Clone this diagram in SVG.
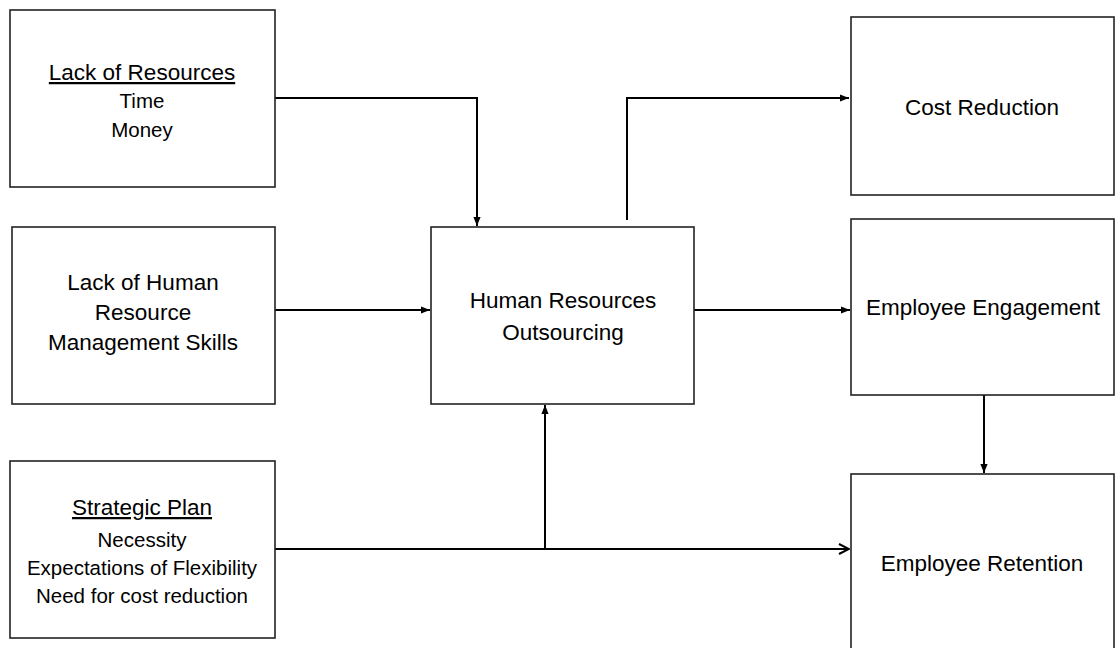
<svg xmlns="http://www.w3.org/2000/svg" width="1115" height="648" viewBox="0 0 1115 648">
<defs>
<marker id="arr" viewBox="0 0 10 10" refX="10" refY="5" markerWidth="9" markerHeight="9" markerUnits="userSpaceOnUse" orient="auto">
<path d="M0,1 L10,5 L0,9 Z" fill="#000"/>
</marker>
<marker id="open" viewBox="0 0 12 12" refX="11" refY="6" markerWidth="12" markerHeight="12" markerUnits="userSpaceOnUse" orient="auto">
<path d="M1,1 L11,6 L1,11" fill="none" stroke="#000" stroke-width="2"/>
</marker>
</defs>
<style>
.box{fill:#fff;stroke:#222;stroke-width:1.6}
text{font-family:"Liberation Sans",Arial,sans-serif;font-size:22.5px;fill:#000;text-anchor:middle}
.sm{font-size:20.5px}
.u{text-decoration:underline}
.c{fill:none;stroke:#000;stroke-width:2}
</style>
<rect width="1115" height="648" fill="#fff"/>
<g id="connectors">
<path class="c" d="M275,98 H477 V226" marker-end="url(#arr)"/>
<path class="c" d="M275,310 H430" marker-end="url(#arr)"/>
<path class="c" d="M627,220 V98 H849" marker-end="url(#arr)"/>
<path class="c" d="M694,310 H850" marker-end="url(#arr)"/>
<path class="c" d="M984,395 V473" marker-end="url(#arr)"/>
<path class="c" d="M275,549 H849" marker-end="url(#open)"/>
<path class="c" d="M545,549 V405" marker-end="url(#arr)"/>
</g>
<g id="lack-resources">
<rect class="box" x="10" y="10" width="265" height="177"/>
<text x="142" y="80" class="u">Lack of Resources</text>
<text x="142" y="108" class="sm">Time</text>
<text x="142" y="137" class="sm">Money</text>
</g>
<g id="lack-hrm">
<rect class="box" x="12" y="227" width="263" height="177"/>
<text x="143" y="290">Lack of Human</text>
<text x="143" y="320">Resource</text>
<text x="143" y="350">Management Skills</text>
</g>
<g id="strategic-plan">
<rect class="box" x="10" y="461" width="265" height="177"/>
<text x="142" y="515" class="u">Strategic Plan</text>
<text x="142" y="547" class="sm">Necessity</text>
<text x="142" y="575" class="sm">Expectations of Flexibility</text>
<text x="142" y="603" class="sm">Need for cost reduction</text>
</g>
<g id="hr-outsourcing">
<rect class="box" x="431" y="227" width="263" height="177"/>
<text x="563" y="308">Human Resources</text>
<text x="563" y="340">Outsourcing</text>
</g>
<g id="cost-reduction">
<rect class="box" x="851" y="17" width="263" height="178"/>
<text x="982" y="115">Cost Reduction</text>
</g>
<g id="employee-engagement">
<rect class="box" x="851" y="219" width="263" height="176"/>
<text x="983" y="315">Employee Engagement</text>
</g>
<g id="employee-retention">
<rect class="box" x="851" y="474" width="263" height="180"/>
<text x="982" y="571">Employee Retention</text>
</g>
</svg>
